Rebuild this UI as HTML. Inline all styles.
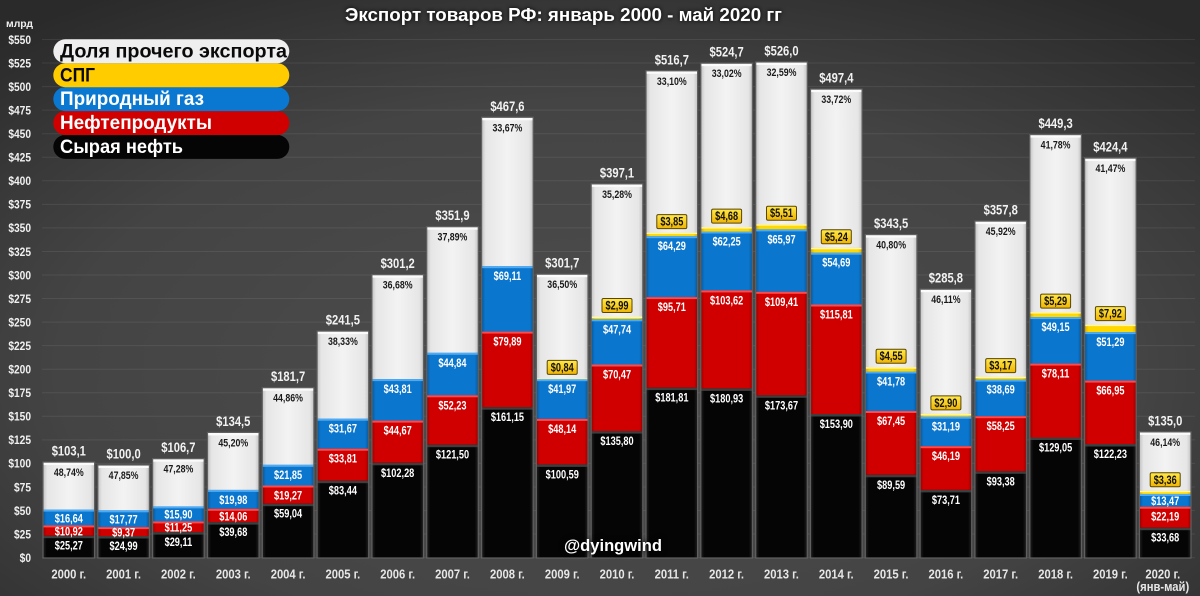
<!DOCTYPE html>
<html><head><meta charset="utf-8">
<style>
html,body{margin:0;padding:0;width:1200px;height:596px;overflow:hidden;background:#3a3a3a}
svg{display:block}
text{font-family:"Liberation Sans","DejaVu Sans",sans-serif;font-weight:bold}
.v{font-size:11.5px;fill:#fff;text-anchor:middle}
.p{font-size:11px;fill:#1a1a1a;text-anchor:middle}
.t{font-size:14px;fill:#f2f2f2;text-anchor:middle}
.l{font-size:11.5px;fill:#111;text-anchor:middle}
.x{font-size:12.5px;fill:#e6e6e6;text-anchor:middle}
.ya{font-size:12px;fill:#f0f0f0;text-anchor:end}
.w{fill:url(#gw)}.y{fill:url(#gy)}.b{fill:url(#gb)}.r{fill:url(#gr)}.k{fill:url(#gk)}
.hw{fill:#fbfbfb}.hy{fill:#fff6a8}.hb{fill:#4eaaf2}.hr{fill:#ff4a4a}.hk{fill:#3e3e3e}
.o{fill:none;stroke:#606060;stroke-width:1.2}
.bx{fill:url(#gl);stroke:#5a4600;stroke-width:1}
</style></head>
<body>
<svg width="1200" height="596" viewBox="0 0 1200 596" xmlns="http://www.w3.org/2000/svg">
<defs>
<radialGradient id="bg" cx="0.5" cy="0.62" r="0.75">
<stop offset="0" stop-color="#4d4d4d"/><stop offset="0.6" stop-color="#444444"/><stop offset="1" stop-color="#2a2a2a"/>
</radialGradient>
<linearGradient id="gw" x1="0" x2="1" y1="0" y2="0">
<stop offset="0" stop-color="#c2c2c2"/><stop offset="0.08" stop-color="#e6e6e6"/><stop offset="0.5" stop-color="#f3f3f3"/><stop offset="0.92" stop-color="#e6e6e6"/><stop offset="1" stop-color="#c2c2c2"/>
</linearGradient>
<linearGradient id="gy" x1="0" x2="1" y1="0" y2="0">
<stop offset="0" stop-color="#d8aa00"/><stop offset="0.08" stop-color="#ffd800"/><stop offset="0.92" stop-color="#ffd800"/><stop offset="1" stop-color="#d8aa00"/>
</linearGradient>
<linearGradient id="gb" x1="0" x2="1" y1="0" y2="0">
<stop offset="0" stop-color="#07589c"/><stop offset="0.07" stop-color="#0b76cd"/><stop offset="0.93" stop-color="#0b76cd"/><stop offset="1" stop-color="#07589c"/>
</linearGradient>
<linearGradient id="gr" x1="0" x2="1" y1="0" y2="0">
<stop offset="0" stop-color="#9c0000"/><stop offset="0.07" stop-color="#d00000"/><stop offset="0.93" stop-color="#d00000"/><stop offset="1" stop-color="#9c0000"/>
</linearGradient>
<linearGradient id="gk" x1="0" x2="1" y1="0" y2="0">
<stop offset="0" stop-color="#222"/><stop offset="0.07" stop-color="#050505"/><stop offset="0.93" stop-color="#050505"/><stop offset="1" stop-color="#222"/>
</linearGradient>
<linearGradient id="gl" x1="0" x2="0" y1="0" y2="1">
<stop offset="0" stop-color="#ffe84a"/><stop offset="1" stop-color="#f0b400"/>
</linearGradient>
</defs>

<rect x="0" y="0" width="1200" height="596" fill="url(#bg)"/>

<!-- gridlines -->
<g stroke="#ffffff" stroke-opacity="0.08" stroke-width="1">
<line x1="42" x2="1195" y1="39.5" y2="39.5"/><line x1="42" x2="1195" y1="63.05" y2="63.05"/><line x1="42" x2="1195" y1="86.6" y2="86.6"/><line x1="42" x2="1195" y1="110.15" y2="110.15"/><line x1="42" x2="1195" y1="133.7" y2="133.7"/><line x1="42" x2="1195" y1="157.25" y2="157.25"/><line x1="42" x2="1195" y1="180.8" y2="180.8"/><line x1="42" x2="1195" y1="204.35" y2="204.35"/><line x1="42" x2="1195" y1="227.9" y2="227.9"/><line x1="42" x2="1195" y1="251.45" y2="251.45"/><line x1="42" x2="1195" y1="275" y2="275"/><line x1="42" x2="1195" y1="298.55" y2="298.55"/><line x1="42" x2="1195" y1="322.1" y2="322.1"/><line x1="42" x2="1195" y1="345.65" y2="345.65"/><line x1="42" x2="1195" y1="369.2" y2="369.2"/><line x1="42" x2="1195" y1="392.75" y2="392.75"/><line x1="42" x2="1195" y1="416.3" y2="416.3"/><line x1="42" x2="1195" y1="439.85" y2="439.85"/><line x1="42" x2="1195" y1="463.4" y2="463.4"/><line x1="42" x2="1195" y1="486.95" y2="486.95"/><line x1="42" x2="1195" y1="510.5" y2="510.5"/><line x1="42" x2="1195" y1="534.05" y2="534.05"/><line x1="42" x2="1195" y1="557.6" y2="557.6"/>
</g>

<!-- bars -->
<g>
<g transform="translate(43,0)"><rect class="w" y="462.1" width="51.6" height="95.9"/><rect class="b" y="509.6" width="51.6" height="48.4"/><rect class="r" y="525.4" width="51.6" height="32.6"/><rect class="k" y="535.7" width="51.6" height="22.3"/><rect class="hw" y="462.1" width="51.6" height="3"/><rect class="hb" y="509.6" width="51.6" height="2"/><rect class="hr" y="525.4" width="51.6" height="2"/><rect class="hk" y="535.7" width="51.6" height="2.5"/><rect class="o" y="462.1" width="51.6" height="95.9"/></g>
<g transform="translate(97.8,0)"><rect class="w" y="465" width="51.6" height="93"/><rect class="b" y="510.3" width="51.6" height="47.7"/><rect class="r" y="527.1" width="51.6" height="30.9"/><rect class="k" y="536" width="51.6" height="22"/><rect class="hw" y="465" width="51.6" height="3"/><rect class="hb" y="510.3" width="51.6" height="2"/><rect class="hr" y="527.1" width="51.6" height="2"/><rect class="hk" y="536" width="51.6" height="2.5"/><rect class="o" y="465" width="51.6" height="93"/></g>
<g transform="translate(152.6,0)"><rect class="w" y="458.7" width="51.6" height="99.3"/><rect class="b" y="506.4" width="51.6" height="51.6"/><rect class="r" y="521.4" width="51.6" height="36.6"/><rect class="k" y="532.1" width="51.6" height="25.9"/><rect class="hw" y="458.7" width="51.6" height="3"/><rect class="hb" y="506.4" width="51.6" height="2"/><rect class="hr" y="521.4" width="51.6" height="2"/><rect class="hk" y="532.1" width="51.6" height="2.5"/><rect class="o" y="458.7" width="51.6" height="99.3"/></g>
<g transform="translate(207.5,0)"><rect class="w" y="432.4" width="51.6" height="125.6"/><rect class="b" y="489.9" width="51.6" height="68.1"/><rect class="r" y="508.8" width="51.6" height="49.2"/><rect class="k" y="522.1" width="51.6" height="35.9"/><rect class="hw" y="432.4" width="51.6" height="3"/><rect class="hb" y="489.9" width="51.6" height="2"/><rect class="hr" y="508.8" width="51.6" height="2"/><rect class="hk" y="522.1" width="51.6" height="2.5"/><rect class="o" y="432.4" width="51.6" height="125.6"/></g>
<g transform="translate(262.3,0)"><rect class="w" y="387.7" width="51.6" height="170.3"/><rect class="b" y="464.8" width="51.6" height="93.2"/><rect class="r" y="485.5" width="51.6" height="72.5"/><rect class="k" y="503.7" width="51.6" height="54.3"/><rect class="hw" y="387.7" width="51.6" height="3"/><rect class="hb" y="464.8" width="51.6" height="2"/><rect class="hr" y="485.5" width="51.6" height="2"/><rect class="hk" y="503.7" width="51.6" height="2.5"/><rect class="o" y="387.7" width="51.6" height="170.3"/></g>
<g transform="translate(317.1,0)"><rect class="w" y="331.1" width="51.6" height="226.9"/><rect class="b" y="418.7" width="51.6" height="139.3"/><rect class="r" y="448.7" width="51.6" height="109.3"/><rect class="k" y="480.7" width="51.6" height="77.3"/><rect class="hw" y="331.1" width="51.6" height="3"/><rect class="hb" y="418.7" width="51.6" height="2"/><rect class="hr" y="448.7" width="51.6" height="2"/><rect class="hk" y="480.7" width="51.6" height="2.5"/><rect class="o" y="331.1" width="51.6" height="226.9"/></g>
<g transform="translate(371.9,0)"><rect class="w" y="274.7" width="51.6" height="283.3"/><rect class="b" y="379.1" width="51.6" height="178.9"/><rect class="r" y="420.6" width="51.6" height="137.4"/><rect class="k" y="462.8" width="51.6" height="95.2"/><rect class="hw" y="274.7" width="51.6" height="3"/><rect class="hb" y="379.1" width="51.6" height="2"/><rect class="hr" y="420.6" width="51.6" height="2"/><rect class="hk" y="462.8" width="51.6" height="2.5"/><rect class="o" y="274.7" width="51.6" height="283.3"/></g>
<g transform="translate(426.7,0)"><rect class="w" y="226.7" width="51.6" height="331.3"/><rect class="b" y="352.8" width="51.6" height="205.2"/><rect class="r" y="395.3" width="51.6" height="162.7"/><rect class="k" y="444.7" width="51.6" height="113.3"/><rect class="hw" y="226.7" width="51.6" height="3"/><rect class="hb" y="352.8" width="51.6" height="2"/><rect class="hr" y="395.3" width="51.6" height="2"/><rect class="hk" y="444.7" width="51.6" height="2.5"/><rect class="o" y="226.7" width="51.6" height="331.3"/></g>
<g transform="translate(481.6,0)"><rect class="w" y="117.3" width="51.6" height="440.7"/><rect class="b" y="266.2" width="51.6" height="291.8"/><rect class="r" y="331.6" width="51.6" height="226.4"/><rect class="k" y="407.2" width="51.6" height="150.8"/><rect class="hw" y="117.3" width="51.6" height="3"/><rect class="hb" y="266.2" width="51.6" height="2"/><rect class="hr" y="331.6" width="51.6" height="2"/><rect class="hk" y="407.2" width="51.6" height="2.5"/><rect class="o" y="117.3" width="51.6" height="440.7"/></g>
<g transform="translate(536.4,0)"><rect class="w" y="274.2" width="51.6" height="283.8"/><rect class="y" y="378.4" width="51.6" height="179.6"/><rect class="b" y="379.2" width="51.6" height="178.8"/><rect class="r" y="418.9" width="51.6" height="139.1"/><rect class="k" y="464.4" width="51.6" height="93.6"/><rect class="hw" y="274.2" width="51.6" height="3"/><rect class="hy" y="378.4" width="51.6" height="1.5"/><rect class="hb" y="379.2" width="51.6" height="2"/><rect class="hr" y="418.9" width="51.6" height="2"/><rect class="hk" y="464.4" width="51.6" height="2.5"/><rect class="o" y="274.2" width="51.6" height="283.8"/></g>
<g transform="translate(591.2,0)"><rect class="w" y="183.9" width="51.6" height="374.1"/><rect class="y" y="316.5" width="51.6" height="241.5"/><rect class="b" y="319.3" width="51.6" height="238.7"/><rect class="r" y="364.5" width="51.6" height="193.5"/><rect class="k" y="431.1" width="51.6" height="126.9"/><rect class="hw" y="183.9" width="51.6" height="3"/><rect class="hy" y="316.5" width="51.6" height="1.5"/><rect class="hb" y="319.3" width="51.6" height="2"/><rect class="hr" y="364.5" width="51.6" height="2"/><rect class="hk" y="431.1" width="51.6" height="2.5"/><rect class="o" y="183.9" width="51.6" height="374.1"/></g>
<g transform="translate(646,0)"><rect class="w" y="70.8" width="51.6" height="487.2"/><rect class="y" y="232.6" width="51.6" height="325.4"/><rect class="b" y="236.2" width="51.6" height="321.8"/><rect class="r" y="297.1" width="51.6" height="260.9"/><rect class="k" y="387.6" width="51.6" height="170.4"/><rect class="hw" y="70.8" width="51.6" height="3"/><rect class="hy" y="232.6" width="51.6" height="1.5"/><rect class="hb" y="236.2" width="51.6" height="2"/><rect class="hr" y="297.1" width="51.6" height="2"/><rect class="hk" y="387.6" width="51.6" height="2.5"/><rect class="o" y="70.8" width="51.6" height="487.2"/></g>
<g transform="translate(700.8,0)"><rect class="w" y="63.2" width="51.6" height="494.8"/><rect class="y" y="227.1" width="51.6" height="330.9"/><rect class="b" y="231.5" width="51.6" height="326.5"/><rect class="r" y="290.4" width="51.6" height="267.6"/><rect class="k" y="388.4" width="51.6" height="169.6"/><rect class="hw" y="63.2" width="51.6" height="3"/><rect class="hy" y="227.1" width="51.6" height="1.5"/><rect class="hb" y="231.5" width="51.6" height="2"/><rect class="hr" y="290.4" width="51.6" height="2"/><rect class="hk" y="388.4" width="51.6" height="2.5"/><rect class="o" y="63.2" width="51.6" height="494.8"/></g>
<g transform="translate(755.7,0)"><rect class="w" y="62" width="51.6" height="496"/><rect class="y" y="224.2" width="51.6" height="333.8"/><rect class="b" y="229.4" width="51.6" height="328.6"/><rect class="r" y="291.8" width="51.6" height="266.2"/><rect class="k" y="395.3" width="51.6" height="162.7"/><rect class="hw" y="62" width="51.6" height="3"/><rect class="hy" y="224.2" width="51.6" height="1.5"/><rect class="hb" y="229.4" width="51.6" height="2"/><rect class="hr" y="291.8" width="51.6" height="2"/><rect class="hk" y="395.3" width="51.6" height="2.5"/><rect class="o" y="62" width="51.6" height="496"/></g>
<g transform="translate(810.5,0)"><rect class="w" y="89.1" width="51.6" height="468.9"/><rect class="y" y="247.8" width="51.6" height="310.2"/><rect class="b" y="252.7" width="51.6" height="305.3"/><rect class="r" y="304.5" width="51.6" height="253.5"/><rect class="k" y="414" width="51.6" height="144"/><rect class="hw" y="89.1" width="51.6" height="3"/><rect class="hy" y="247.8" width="51.6" height="1.5"/><rect class="hb" y="252.7" width="51.6" height="2"/><rect class="hr" y="304.5" width="51.6" height="2"/><rect class="hk" y="414" width="51.6" height="2.5"/><rect class="o" y="89.1" width="51.6" height="468.9"/></g>
<g transform="translate(865.3,0)"><rect class="w" y="234.6" width="51.6" height="323.4"/><rect class="y" y="367.2" width="51.6" height="190.8"/><rect class="b" y="371.5" width="51.6" height="186.5"/><rect class="r" y="411" width="51.6" height="147"/><rect class="k" y="474.8" width="51.6" height="83.2"/><rect class="hw" y="234.6" width="51.6" height="3"/><rect class="hy" y="367.2" width="51.6" height="1.5"/><rect class="hb" y="371.5" width="51.6" height="2"/><rect class="hr" y="411" width="51.6" height="2"/><rect class="hk" y="474.8" width="51.6" height="2.5"/><rect class="o" y="234.6" width="51.6" height="323.4"/></g>
<g transform="translate(920.1,0)"><rect class="w" y="289.2" width="51.6" height="268.8"/><rect class="y" y="413.9" width="51.6" height="144.1"/><rect class="b" y="416.7" width="51.6" height="141.3"/><rect class="r" y="446.2" width="51.6" height="111.8"/><rect class="k" y="489.9" width="51.6" height="68.1"/><rect class="hw" y="289.2" width="51.6" height="3"/><rect class="hy" y="413.9" width="51.6" height="1.5"/><rect class="hb" y="416.7" width="51.6" height="2"/><rect class="hr" y="446.2" width="51.6" height="2"/><rect class="hk" y="489.9" width="51.6" height="2.5"/><rect class="o" y="289.2" width="51.6" height="268.8"/></g>
<g transform="translate(974.9,0)"><rect class="w" y="221.1" width="51.6" height="336.9"/><rect class="y" y="376.6" width="51.6" height="181.4"/><rect class="b" y="379.6" width="51.6" height="178.4"/><rect class="r" y="416.2" width="51.6" height="141.8"/><rect class="k" y="471.3" width="51.6" height="86.7"/><rect class="hw" y="221.1" width="51.6" height="3"/><rect class="hy" y="376.6" width="51.6" height="1.5"/><rect class="hb" y="379.6" width="51.6" height="2"/><rect class="hr" y="416.2" width="51.6" height="2"/><rect class="hk" y="471.3" width="51.6" height="2.5"/><rect class="o" y="221.1" width="51.6" height="336.9"/></g>
<g transform="translate(1029.8,0)"><rect class="w" y="134.6" width="51.6" height="423.4"/><rect class="y" y="312.1" width="51.6" height="245.9"/><rect class="b" y="317.1" width="51.6" height="240.9"/><rect class="r" y="363.6" width="51.6" height="194.4"/><rect class="k" y="437.5" width="51.6" height="120.5"/><rect class="hw" y="134.6" width="51.6" height="3"/><rect class="hy" y="312.1" width="51.6" height="1.5"/><rect class="hb" y="317.1" width="51.6" height="2"/><rect class="hr" y="363.6" width="51.6" height="2"/><rect class="hk" y="437.5" width="51.6" height="2.5"/><rect class="o" y="134.6" width="51.6" height="423.4"/></g>
<g transform="translate(1084.6,0)"><rect class="w" y="158.1" width="51.6" height="399.9"/><rect class="y" y="324.6" width="51.6" height="233.4"/><rect class="b" y="332.1" width="51.6" height="225.9"/><rect class="r" y="380.6" width="51.6" height="177.4"/><rect class="k" y="444" width="51.6" height="114"/><rect class="hw" y="158.1" width="51.6" height="3"/><rect class="hy" y="324.6" width="51.6" height="1.5"/><rect class="hb" y="332.1" width="51.6" height="2"/><rect class="hr" y="380.6" width="51.6" height="2"/><rect class="hk" y="444" width="51.6" height="2.5"/><rect class="o" y="158.1" width="51.6" height="399.9"/></g>
<g transform="translate(1139.4,0)"><rect class="w" y="431.9" width="51.6" height="126.1"/><rect class="y" y="490.8" width="51.6" height="67.2"/><rect class="b" y="494" width="51.6" height="64"/><rect class="r" y="506.7" width="51.6" height="51.3"/><rect class="k" y="527.7" width="51.6" height="30.3"/><rect class="hw" y="431.9" width="51.6" height="3"/><rect class="hy" y="490.8" width="51.6" height="1.5"/><rect class="hb" y="494" width="51.6" height="2"/><rect class="hr" y="506.7" width="51.6" height="2"/><rect class="hk" y="527.7" width="51.6" height="2.5"/><rect class="o" y="431.9" width="51.6" height="126.1"/></g>
</g>

<!-- LNG boxes -->
<g>
<rect class="bx" x="547.2" y="360.4" width="30" height="14" rx="1.5"/>
<rect class="bx" x="602" y="298.5" width="30" height="14" rx="1.5"/>
<rect class="bx" x="656.8" y="214.6" width="30" height="14" rx="1.5"/>
<rect class="bx" x="711.6" y="209.1" width="30" height="14" rx="1.5"/>
<rect class="bx" x="766.5" y="206.2" width="30" height="14" rx="1.5"/>
<rect class="bx" x="821.3" y="229.8" width="30" height="14" rx="1.5"/>
<rect class="bx" x="876.1" y="349.2" width="30" height="14" rx="1.5"/>
<rect class="bx" x="930.9" y="395.9" width="30" height="14" rx="1.5"/>
<rect class="bx" x="985.7" y="358.6" width="30" height="14" rx="1.5"/>
<rect class="bx" x="1040.6" y="294.1" width="30" height="14" rx="1.5"/>
<rect class="bx" x="1095.4" y="306.6" width="30" height="14" rx="1.5"/>
<rect class="bx" x="1150.2" y="472.8" width="30" height="14" rx="1.5"/>
</g>

<!-- labels (condensed) -->
<g transform="scale(0.8,1)">
<text class="v" x="86" y="549.7">$25,27</text><text class="v" x="86" y="535.4">$10,92</text><text class="v" x="86" y="522.3">$16,64</text><text class="p" x="86" y="476.1">48,74%</text><text class="t" x="86" y="455.6">$103,1</text>
<text class="v" x="154.5" y="550">$24,99</text><text class="v" x="154.5" y="536.4">$9,37</text><text class="v" x="154.5" y="523.5">$17,77</text><text class="p" x="154.5" y="479">47,85%</text><text class="t" x="154.5" y="458.5">$100,0</text>
<text class="v" x="223" y="546.1">$29,11</text><text class="v" x="223" y="531.6">$11,25</text><text class="v" x="223" y="518.7">$15,90</text><text class="p" x="223" y="472.7">47,28%</text><text class="t" x="223" y="452.2">$106,7</text>
<text class="v" x="291.6" y="536.1">$39,68</text><text class="v" x="291.6" y="520.3">$14,06</text><text class="v" x="291.6" y="503.9">$19,98</text><text class="p" x="291.6" y="446.4">45,20%</text><text class="t" x="291.6" y="425.9">$134,5</text>
<text class="v" x="360.1" y="517.7">$59,04</text><text class="v" x="360.1" y="499.4">$19,27</text><text class="v" x="360.1" y="478.8">$21,85</text><text class="p" x="360.1" y="401.7">44,86%</text><text class="t" x="360.1" y="381.2">$181,7</text>
<text class="v" x="428.6" y="494.7">$83,44</text><text class="v" x="428.6" y="462.7">$33,81</text><text class="v" x="428.6" y="432.7">$31,67</text><text class="p" x="428.6" y="345.1">38,33%</text><text class="t" x="428.6" y="324.6">$241,5</text>
<text class="v" x="497.1" y="476.8">$102,28</text><text class="v" x="497.1" y="434.6">$44,67</text><text class="v" x="497.1" y="393.1">$43,81</text><text class="p" x="497.1" y="288.7">36,68%</text><text class="t" x="497.1" y="268.2">$301,2</text>
<text class="v" x="565.6" y="458.7">$121,50</text><text class="v" x="565.6" y="409.3">$52,23</text><text class="v" x="565.6" y="366.8">$44,84</text><text class="p" x="565.6" y="240.7">37,89%</text><text class="t" x="565.6" y="220.2">$351,9</text>
<text class="v" x="634.3" y="421.2">$161,15</text><text class="v" x="634.3" y="345.6">$79,89</text><text class="v" x="634.3" y="280.2">$69,11</text><text class="p" x="634.3" y="131.3">33,67%</text><text class="t" x="634.3" y="110.8">$467,6</text>
<text class="v" x="702.8" y="478.4">$100,59</text><text class="v" x="702.8" y="432.9">$48,14</text><text class="v" x="702.8" y="393.2">$41,97</text><text class="l" x="702.8" y="371.4">$0,84</text><text class="p" x="702.8" y="288.2">36,50%</text><text class="t" x="702.8" y="267.7">$301,7</text>
<text class="v" x="771.3" y="445.1">$135,80</text><text class="v" x="771.3" y="378.5">$70,47</text><text class="v" x="771.3" y="333.3">$47,74</text><text class="l" x="771.3" y="309.5">$2,99</text><text class="p" x="771.3" y="197.9">35,28%</text><text class="t" x="771.3" y="177.4">$397,1</text>
<text class="v" x="839.8" y="401.6">$181,81</text><text class="v" x="839.8" y="311.1">$95,71</text><text class="v" x="839.8" y="250.2">$64,29</text><text class="l" x="839.8" y="225.6">$3,85</text><text class="p" x="839.8" y="84.8">33,10%</text><text class="t" x="839.8" y="64.3">$516,7</text>
<text class="v" x="908.3" y="402.4">$180,93</text><text class="v" x="908.3" y="304.4">$103,62</text><text class="v" x="908.3" y="245.5">$62,25</text><text class="l" x="908.3" y="220.1">$4,68</text><text class="p" x="908.3" y="77.2">33,02%</text><text class="t" x="908.3" y="56.7">$524,7</text>
<text class="v" x="976.9" y="409.3">$173,67</text><text class="v" x="976.9" y="305.8">$109,41</text><text class="v" x="976.9" y="243.4">$65,97</text><text class="l" x="976.9" y="217.2">$5,51</text><text class="p" x="976.9" y="76">32,59%</text><text class="t" x="976.9" y="55.5">$526,0</text>
<text class="v" x="1045.4" y="428">$153,90</text><text class="v" x="1045.4" y="318.5">$115,81</text><text class="v" x="1045.4" y="266.7">$54,69</text><text class="l" x="1045.4" y="240.8">$5,24</text><text class="p" x="1045.4" y="103.1">33,72%</text><text class="t" x="1045.4" y="82.6">$497,4</text>
<text class="v" x="1113.9" y="488.8">$89,59</text><text class="v" x="1113.9" y="425">$67,45</text><text class="v" x="1113.9" y="385.5">$41,78</text><text class="l" x="1113.9" y="360.2">$4,55</text><text class="p" x="1113.9" y="248.6">40,80%</text><text class="t" x="1113.9" y="228.1">$343,5</text>
<text class="v" x="1182.4" y="503.9">$73,71</text><text class="v" x="1182.4" y="460.2">$46,19</text><text class="v" x="1182.4" y="430.7">$31,19</text><text class="l" x="1182.4" y="406.9">$2,90</text><text class="p" x="1182.4" y="303.2">46,11%</text><text class="t" x="1182.4" y="282.7">$285,8</text>
<text class="v" x="1250.9" y="485.3">$93,38</text><text class="v" x="1250.9" y="430.2">$58,25</text><text class="v" x="1250.9" y="393.6">$38,69</text><text class="l" x="1250.9" y="369.6">$3,17</text><text class="p" x="1250.9" y="235.1">45,92%</text><text class="t" x="1250.9" y="214.6">$357,8</text>
<text class="v" x="1319.5" y="451.5">$129,05</text><text class="v" x="1319.5" y="377.6">$78,11</text><text class="v" x="1319.5" y="331.1">$49,15</text><text class="l" x="1319.5" y="305.1">$5,29</text><text class="p" x="1319.5" y="148.6">41,78%</text><text class="t" x="1319.5" y="128.1">$449,3</text>
<text class="v" x="1388" y="458">$122,23</text><text class="v" x="1388" y="394.6">$66,95</text><text class="v" x="1388" y="346.1">$51,29</text><text class="l" x="1388" y="317.6">$7,92</text><text class="p" x="1388" y="172.1">41,47%</text><text class="t" x="1388" y="151.6">$424,4</text>
<text class="v" x="1456.5" y="541.7">$33,68</text><text class="v" x="1456.5" y="520.7">$22,19</text><text class="v" x="1456.5" y="505.2">$13,47</text><text class="l" x="1456.5" y="483.8">$3,36</text><text class="p" x="1456.5" y="445.9">46,14%</text><text class="t" x="1456.5" y="425.4">$135,0</text>
</g>

<!-- x axis labels -->
<g transform="scale(0.9,1)">
<text class="x" x="76.4" y="578.5">2000 г.</text>
<text class="x" x="137.3" y="578.5">2001 г.</text>
<text class="x" x="198.2" y="578.5">2002 г.</text>
<text class="x" x="259.2" y="578.5">2003 г.</text>
<text class="x" x="320.1" y="578.5">2004 г.</text>
<text class="x" x="381" y="578.5">2005 г.</text>
<text class="x" x="441.9" y="578.5">2006 г.</text>
<text class="x" x="502.8" y="578.5">2007 г.</text>
<text class="x" x="563.8" y="578.5">2008 г.</text>
<text class="x" x="624.7" y="578.5">2009 г.</text>
<text class="x" x="685.6" y="578.5">2010 г.</text>
<text class="x" x="746.4" y="578.5">2011 г.</text>
<text class="x" x="807.3" y="578.5">2012 г.</text>
<text class="x" x="868.3" y="578.5">2013 г.</text>
<text class="x" x="929.2" y="578.5">2014 г.</text>
<text class="x" x="990.1" y="578.5">2015 г.</text>
<text class="x" x="1051" y="578.5">2016 г.</text>
<text class="x" x="1111.9" y="578.5">2017 г.</text>
<text class="x" x="1172.9" y="578.5">2018 г.</text>
<text class="x" x="1233.8" y="578.5">2019 г.</text>
<text class="x" x="1292" y="578.5">2020 г.</text>
<text class="x" x="1292" y="591">(янв-май)</text>
</g>

<!-- y axis labels -->
<text x="6" y="27" style="font-size:10.5px;fill:#f0f0f0" textLength="27" lengthAdjust="spacingAndGlyphs">млрд</text>
<g transform="scale(0.85,1)">
<text class="ya" x="36.5" y="43.8">$550</text>
<text class="ya" x="36.5" y="67.4">$525</text>
<text class="ya" x="36.5" y="90.9">$500</text>
<text class="ya" x="36.5" y="114.5">$475</text>
<text class="ya" x="36.5" y="138">$450</text>
<text class="ya" x="36.5" y="161.6">$425</text>
<text class="ya" x="36.5" y="185.1">$400</text>
<text class="ya" x="36.5" y="208.7">$375</text>
<text class="ya" x="36.5" y="232.2">$350</text>
<text class="ya" x="36.5" y="255.8">$325</text>
<text class="ya" x="36.5" y="279.3">$300</text>
<text class="ya" x="36.5" y="302.9">$275</text>
<text class="ya" x="36.5" y="326.4">$250</text>
<text class="ya" x="36.5" y="350">$225</text>
<text class="ya" x="36.5" y="373.5">$200</text>
<text class="ya" x="36.5" y="397.1">$175</text>
<text class="ya" x="36.5" y="420.6">$150</text>
<text class="ya" x="36.5" y="444.2">$125</text>
<text class="ya" x="36.5" y="467.7">$100</text>
<text class="ya" x="36.5" y="491.3">$75</text>
<text class="ya" x="36.5" y="514.8">$50</text>
<text class="ya" x="36.5" y="538.4">$25</text>
<text class="ya" x="36.5" y="561.9">$0</text>
</g>

<!-- legend -->
<g>
<rect x="53.3" y="134.9" width="236" height="24" rx="12" fill="#050505"/>
<rect x="53.3" y="111" width="236" height="24" rx="12" fill="#d00000"/>
<rect x="53.3" y="87.1" width="236" height="24" rx="12" fill="#0a78d0"/>
<rect x="53.3" y="63.2" width="236" height="24" rx="12" fill="#ffcc00"/>
<rect x="53.3" y="39.3" width="236" height="24" rx="12" fill="#efefef"/>
<text x="60" y="57.5" style="font-size:19px;fill:#0a0a0a" textLength="227" lengthAdjust="spacingAndGlyphs">Доля прочего экспорта</text>
<text x="60" y="81.3" style="font-size:19px;fill:#0a0a0a" textLength="35" lengthAdjust="spacingAndGlyphs">СПГ</text>
<text x="60" y="105.2" style="font-size:19px;fill:#ffffff" textLength="144" lengthAdjust="spacingAndGlyphs">Природный газ</text>
<text x="60" y="129.2" style="font-size:19px;fill:#ffffff" textLength="152" lengthAdjust="spacingAndGlyphs">Нефтепродукты</text>
<text x="60" y="153.2" style="font-size:19px;fill:#ffffff" textLength="123" lengthAdjust="spacingAndGlyphs">Сырая нефть</text>
</g>

<!-- title -->
<text x="345" y="21" style="font-size:18px;fill:#ffffff;filter:drop-shadow(0 0 2px #000)" textLength="437" lengthAdjust="spacingAndGlyphs">Экспорт товаров РФ: январь 2000 - май 2020 гг</text>

<!-- watermark -->
<text x="564" y="551" style="font-size:17px;fill:#ffffff;filter:drop-shadow(0 0 3px #000)" textLength="98" lengthAdjust="spacingAndGlyphs">@dyingwind</text>
</svg>
</body></html>
